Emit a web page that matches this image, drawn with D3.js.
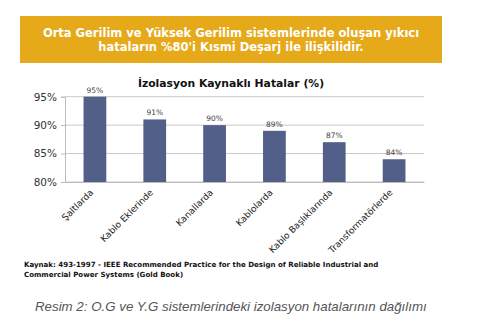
<!DOCTYPE html>
<html><head><meta charset="utf-8">
<script src="https://cdn.jsdelivr.net/npm/d3@7"></script>
<style>body{margin:0;background:#fff;} svg{display:block;}</style>
</head><body>
<script>
const categories = ["Şaltlarda","Kablo Eklerinde","Kanallarda","Kablolarda","Kablo Başlıklarında","Transformatörlerde"];
const values = [95, 91, 90, 89, 87, 84];
const yTicks = [80, 85, 90, 95];
const headerLines = ["Orta Gerilim ve Yüksek Gerilim sistemlerinde oluşan yıkıcı","hataların %80'i Kısmi Deşarj ile ilişkilidir."];
const chartTitle = "İzolasyon Kaynaklı Hatalar (%)";
const sourceLines = ["Kaynak: 493-1997 - IEEE Recommended Practice for the Design of Reliable Industrial and","Commercial Power Systems (Gold Book)"];
const caption = "Resim 2: O.G ve Y.G sistemlerindeki izolasyon hatalarının dağılımı";

const W = 500, H = 330;
const svg = d3.select("body").append("svg").attr("width", W).attr("height", H);
const FONT = "Verdana, 'DejaVu Sans', sans-serif";

// header box
svg.append("rect").attr("x", 20).attr("y", 16).attr("width", 422).attr("height", 47).attr("fill", "#E6A91A");
svg.selectAll("text.hdr").data(headerLines).enter().append("text")
  .attr("x", 231).attr("y", (d,i) => 37 + i*14)
  .attr("text-anchor", "middle").attr("fill", "#fff")
  .attr("font-family", FONT).attr("font-weight", "bold").attr("font-size", 11.5)
  .text(d => d);

// chart title
svg.append("text").attr("x", 231).attr("y", 87).attr("text-anchor", "middle")
  .attr("font-family", FONT).attr("font-weight", "bold").attr("font-size", 10.8)
  .attr("fill", "#111").text(chartTitle);

const pLeft = 65, pRight = 424, pTop = 96.7, pBottom = 182;
const x = d3.scaleBand().domain(categories).range([pLeft, pRight]).paddingInner(0.62).paddingOuter(0.31);
const y = d3.scaleLinear().domain([80, 95]).range([pBottom, pTop]);

// gridlines
svg.append("g").selectAll("line").data(yTicks).enter().append("line")
  .attr("x1", pLeft).attr("x2", pRight).attr("y1", d => y(d)).attr("y2", d => y(d))
  .attr("stroke", "#c8c8c8").attr("stroke-width", 1);

// y axis
const yAxis = d3.axisLeft(y).tickValues(yTicks).tickFormat(d => d + "%").tickSize(4).tickPadding(4);
const gy = svg.append("g").attr("transform", `translate(${pLeft},0)`).call(yAxis);
gy.select(".domain").attr("stroke", "#bbb");
gy.selectAll(".tick line").attr("stroke", "#bbb");
gy.selectAll("text").attr("font-family", FONT).attr("font-size", 10.5).attr("fill", "#333");

// bars
svg.append("g").selectAll("rect").data(values).enter().append("rect")
  .attr("x", (d,i) => x(categories[i])).attr("width", x.bandwidth())
  .attr("y", d => y(d)).attr("height", d => pBottom - y(d))
  .attr("fill", "#525F88");

// value labels
svg.append("g").selectAll("text").data(values).enter().append("text")
  .attr("x", (d,i) => x(categories[i]) + x.bandwidth()/2).attr("y", d => y(d) - 4)
  .attr("text-anchor", "middle").attr("font-family", FONT).attr("font-size", 7.5)
  .attr("fill", "#444").text(d => d + "%");

// x axis
const xAxis = d3.axisBottom(x).tickSize(0).tickFormat("");
const gx = svg.append("g").attr("transform", `translate(0,${pBottom})`).call(xAxis);
gx.select(".domain").attr("stroke", "#bbb");
gx.selectAll(".tick").append("text")
  .attr("font-family", FONT).attr("font-size", 9).attr("fill", "#222")
  .attr("text-anchor", "end")
  .attr("transform", "translate(-1,11) rotate(-45)")
  .text(d => d);

// source
svg.selectAll("text.src").data(sourceLines).enter().append("text")
  .attr("x", 24).attr("y", (d,i) => 267 + i*10)
  .attr("font-family", FONT).attr("font-weight", "bold").attr("font-size", 7.05)
  .attr("fill", "#111").text(d => d);

// caption
svg.append("text").attr("x", 35).attr("y", 311)
  .attr("font-family", "Arial, 'Liberation Sans', sans-serif").attr("font-style", "italic").attr("font-size", 13.3)
  .attr("fill", "#555").text(caption);
</script>
</body></html>
